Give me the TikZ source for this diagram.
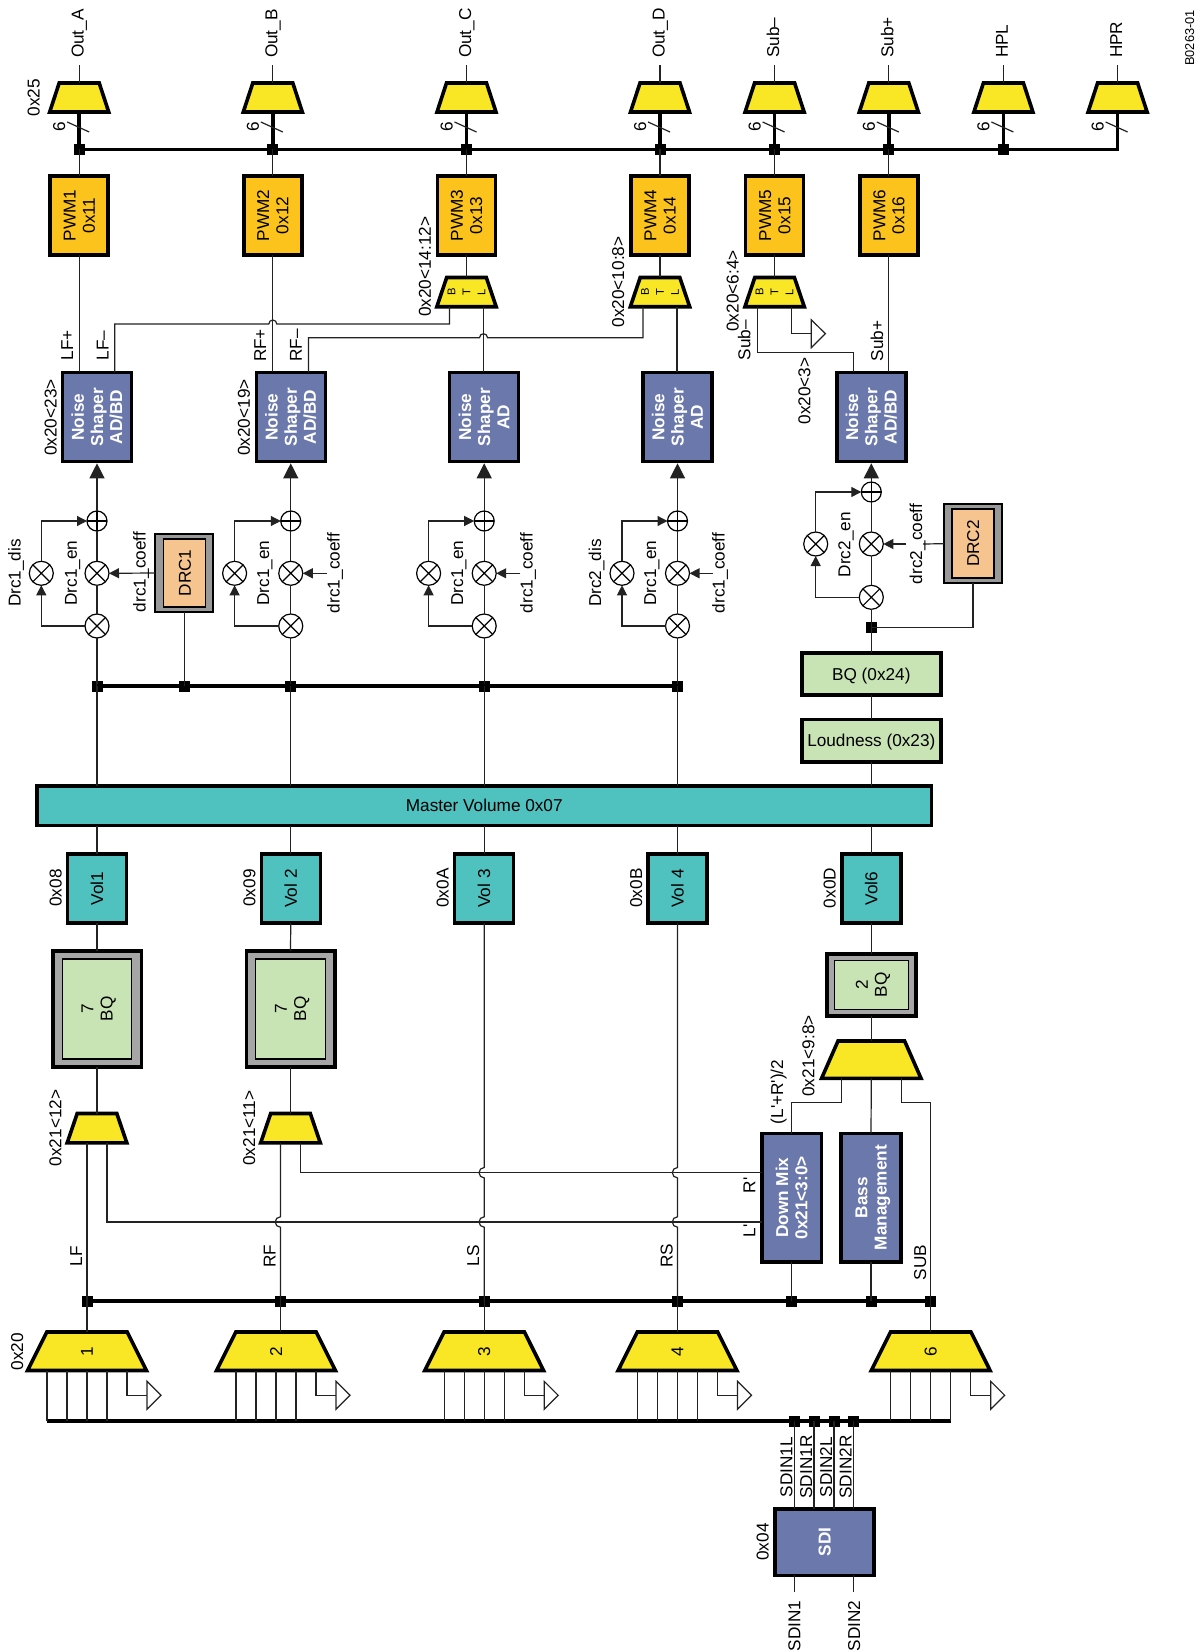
\documentclass[tikz,border=0pt]{standalone}
\usepackage{fontspec}
\usepackage{graphicx}
\setmainfont{Liberation Sans}[Ligatures=ResetAll]
\usetikzlibrary{arrows.meta}
\definecolor{cyel}{HTML}{F9E726}
\definecolor{corg}{HTML}{FBC31B}
\definecolor{cblu}{HTML}{6B78AC}
\definecolor{ctea}{HTML}{4FC1BF}
\definecolor{cgrn}{HTML}{C8E3B4}
\definecolor{cpch}{HTML}{F6C58F}
\definecolor{cgry}{HTML}{999999}
\definecolor{cgrb}{HTML}{A6A6A6}
\definecolor{cwire}{HTML}{222222}
\newcommand\rttext[1]{\kern2.2pt\rotatebox{90}{\begin{tabular}{@{}c@{}}#1\end{tabular}}}
\newcommand\muxn[7]{%
  \draw[muxs] ({#2-#5},#3) -- ({#2+#5},#3) -- ({#2+#6},#4) -- ({#2-#6},#4) -- cycle;
  \node[muxa, minimum width={2*(#6)*0.5pt}, minimum height={(#4-#3)*0.5pt}] (#1) at (#2,{(#3+#4)/2}) {#7};}
\newcommand\bufn[4]{%
  \draw[bufs] (#2,{#3-14}) -- (#4,#3) -- (#2,{#3+14}) -- cycle;
  \coordinate (#1) at (#2,#3);}
\newcommand\lb[4]{\node[lab] (#1) at (#2,#3) {#4};}
\tikzset{
  fnt/.style={font=\fontsize{8.6}{9.6}\selectfont},
  fntb/.style={font=\fontsize{8.6}{9.6}\selectfont\bfseries},
  boxs/.style 2 args={draw=black, line width=1.75pt, inner sep=0pt, outer sep=0pt, fnt,
     minimum width=#1*0.5pt, minimum height=#2*0.5pt},
  thinb/.style 2 args={draw=black, line width=0.6pt, inner sep=0pt, outer sep=0pt, fnt,
     minimum width=#1*0.5pt, minimum height=#2*0.5pt},
  flat/.style={text height=6pt, text depth=0pt},
  muxs/.style={draw=black, line width=1.8pt, fill=cyel, miter limit=10},
  muxa/.style={rectangle, inner sep=0pt, outer sep=0pt, fnt},
  bufs/.style={draw=cwire, line width=0.6pt, fill=white},
  wire/.style={draw=cwire, line width=0.6pt},
  busw/.style={draw=black, line width=1.75pt},
  jct/.style={fill=black, inner sep=0pt, outer sep=0pt, minimum size=5.5pt},
  lab/.style={rotate=90, inner sep=0pt, outer sep=0pt, text height=6pt, text depth=0pt, fnt},
  arrb/.style={wire, -{Triangle[length=7.5pt,width=7.5pt]}, shorten >=0.9pt},
  arrs/.style={wire, -{Triangle[length=5pt,width=5pt]}},
  xc/.style={circle, draw=black, line width=0.6pt, fill=white, inner sep=0pt, outer sep=0pt,
     minimum size=12pt, path picture={
       \draw[line width=0.6pt] (path picture bounding box.north west) -- (path picture bounding box.south east)
         (path picture bounding box.north east) -- (path picture bounding box.south west);}},
  pc/.style={circle, draw=black, line width=0.6pt, fill=white, inner sep=0pt, outer sep=0pt,
     minimum size=10pt, path picture={
       \draw[line width=0.6pt] (path picture bounding box.north) -- (path picture bounding box.south)
         (path picture bounding box.east) -- (path picture bounding box.west);}},
}
\begin{document}
\begin{tikzpicture}[x=0.5pt,y=-0.5pt]
\useasboundingbox (0,0) rectangle (1199,1652);

% ---- output section
\foreach \i/\x/\t in {1/79.2/Out\_A,2/272.8/Out\_B,3/466.5/Out\_C,4/660/Out\_D,5/774.6/Sub–,6/888.8/Sub+,7/1003.4/HPL,8/1117.6/HPR}{
  \muxn{mo\i}{\x}{83}{112}{20}{29.5}{}
  \node[lab, anchor=west] (lo\i) at ({\x-1.5},58) {\t};
  \node[lab] (ls\i) at ({\x-20},127) {6};
  \coordinate (co\i) at (\x,65);
  \draw[wire] (mo\i.north) -- (co\i);
  \coordinate (sa\i) at ({\x-12},122);
  \coordinate (sb\i) at ({\x+10},132);
}
\foreach \i/\x in {1/79.2,2/272.8,3/466.5,4/660,5/774.6,6/888.8,7/1003.4}{
  \node[jct] (jo\i) at (\x,149.3) {};
}
\coordinate (jo8) at (1117.6,149.3);
\draw[busw] (jo1.center) -- (jo8) -- (mo8.south);
\foreach \i in {1,...,7}{\draw[busw] (mo\i.south) -- (jo\i.center);}
\foreach \i in {1,...,8}{\draw[wire] (sa\i) -- (sb\i);}
\lb{l025}{33.7}{97.7}{0x25}
\node[lab] (lb0263) at (1188.2,38) {\fontsize{6.4}{7}\selectfont B0263-01};

% ---- PWM
\foreach \i/\x/\t in {1/79.2/{PWM1\\0x11},2/272.8/{PWM2\\0x12},3/466.5/{PWM3\\0x13},4/660/{PWM4\\0x14},5/774.6/{PWM5\\0x15},6/888.8/{PWM6\\0x16}}{
  \node[boxs={58}{79}, fill=corg] (pwm\i) at (\x,215.5) {\rttext{\t}};
  \draw[wire] (pwm\i.north) -- (jo\i.center);
}
% ---- BTL
\foreach \i/\x in {3/466.5,4/660,5/774.6}{
  \muxn{btl\i}{\x}{277.5}{306.8}{19.8}{29.7}{\fontsize{5.6}{6}\selectfont\makebox[7.5pt]{\rotatebox{90}{B}}\makebox[7.5pt]{\rotatebox{90}{T}}\makebox[7.5pt]{\rotatebox{90}{L}}}
  \draw[wire] (pwm\i.south) -- (btl\i.north);
}
% ---- noise shapers
\foreach \i/\x/\t in {1/97/{Noise\\Shaper\\AD/BD},2/290.75/{Noise\\Shaper\\AD/BD},3/484.2/{Noise\\Shaper\\AD},4/677.5/{Noise\\Shaper\\AD},5/871.3/{Noise\\Shaper\\AD/BD}}{
  \node[boxs={69}{89}, fill=cblu, text=white, fntb] (ns\i) at (\x,417) {\rttext{\t}};
}
\draw[wire] (pwm1.south) -- (pwm1.south |- ns1.north);
\draw[wire] (pwm2.south) -- (pwm2.south |- ns2.north);
\draw[wire] (pwm6.south) -- (pwm6.south |- ns5.north);
\coordinate (hA) at (272.8,324);
\coordinate (hB) at (483.5,337.7);
\draw[wire] ([xshift=8.9pt]ns1.north) |- ([xshift=-2pt]hA) arc[start angle=180,end angle=0,radius=2pt] -| ([xshift=-8.5pt]btl3.south);
\draw[wire] ([xshift=8.9pt]ns2.north) |- ([xshift=-2pt]hB) arc[start angle=180,end angle=0,radius=2pt] -| ([xshift=-8.5pt]btl4.south);
\draw[wire] ([xshift=8.5pt]btl3.south) -- ([xshift=8.5pt]btl3.south |- ns3.north);
\draw[wire] ([xshift=8.5pt]btl4.south) -- ([xshift=8.5pt]btl4.south |- ns4.north);
\coordinate (sj) at (853.3,352.3);
\draw[wire] ([xshift=-8.5pt]btl5.south) |- (sj) -- (sj |- ns5.north);
\bufn{bfs}{811.2}{333.7}{825.4}
\draw[wire] ([xshift=8.5pt]btl5.south) |- (bfs);
\lb{lp1}{67}{345.5}{LF+}
\lb{lp2}{102.6}{345.5}{LF–}
\lb{lp3}{260}{345.5}{RF+}
\lb{lp4}{295.8}{345.5}{RF–}
\lb{lp5}{877}{341}{Sub+}
\lb{lp6}{744.4}{340}{Sub–}
\lb{lp7}{732.5}{291}{0x20<6:4>}
\lb{lp8}{618}{282}{0x20<10:8>}
\lb{lp9}{424.8}{266.7}{0x20<14:12>}
\lb{lp10}{804.4}{391}{0x20<3>}
\lb{lp11}{50.5}{417.5}{0x20<23>}
\lb{lp12}{243.8}{417.5}{0x20<19>}

% ---- DRC1 block and mixers
\node[boxs={58}{78}, fill=cgry, line width=1pt] (drc1o) at (184,573) {};
\node[thinb={42}{68}, fill=cpch] (drc1i) at (184.8,573) {\rttext{DRC1}};
\node[jct] (dj0) at (184.8,686) {};
\foreach \k/\c/\l in {1/97/41.3,2/290.75/234.6,3/484.2/428.6,4/677.5/622}{
  \node[pc] (pl\k) at (\c,521) {};
  \node[xc] (xm\k) at (\c,573.3) {};
  \node[xc] (xb\k) at (\c,626) {};
  \node[xc] (xl\k) at (\l,573.3) {};
  \node[jct] (dj\k) at (\c,686) {};
  \draw[wire] (xb\k.north) -- (xm\k.south);
  \draw[wire] (xm\k.north) -- (pl\k.south);
  \draw[arrb] (pl\k.north) -- (ns\k.south);
  \draw[wire] (xb\k.south) -- (dj\k.center);
  \draw[arrs] (xb\k.west) -| (xl\k.south);
  \draw[arrs] (xl\k.north) |- (pl\k.west);
}
\draw[busw] (dj1.center) -- (dj4.center);
\draw[wire] (drc1o.south -| dj0) -- (dj0.center);
\draw[arrs] (drc1o.west) -- (xm1.east);
\coordinate (cc2) at (327,573.3);
\coordinate (cc3) at (520.4,573.3);
\coordinate (cc4) at (712.6,573.3);
\foreach \k in {2,3,4}{\draw[arrs] (cc\k) -- (xm\k.east);}
\lb{ld1}{14.5}{573}{Drc1\_dis}
\lb{ld2}{70.8}{573}{Drc1\_en}
\lb{ld3}{139.7}{572}{drc1\_coeff}
\lb{ld4}{263}{573}{Drc1\_en}
\lb{ld5}{333.5}{573}{drc1\_coeff}
\lb{ld6}{457}{573}{Drc1\_en}
\lb{ld7}{526.5}{573}{drc1\_coeff}
\lb{ld8}{595}{573}{Drc2\_dis}
\lb{ld9}{650}{573}{Drc1\_en}
\lb{ld10}{718.5}{573}{drc1\_coeff}

% ---- sub channel DRC2
\node[pc] (pls) at (871.3,492) {};
\node[xc] (xms) at (871.3,544) {};
\node[xc] (xbs) at (871.3,597.3) {};
\node[xc] (xls) at (815.7,544) {};
\node[jct] (djs) at (871.3,627.7) {};
\node[boxs={58}{79}, fill=cgry, line width=1pt] (drc2o) at (973,543.7) {};
\node[thinb={42}{69}, fill=cpch] (drc2i) at (973,543.5) {\rttext{DRC2}};
\draw[wire] (xbs.north) -- (xms.south);
\draw[wire] (xms.north) -- (pls.south);
\draw[arrb] (pls.north) -- (ns5.south);
\draw[wire] (xbs.south) -- (djs.center);
\draw[arrs] (xbs.west) -| (xls.south);
\draw[arrs] (xls.north) |- (pls.west);
\draw[wire] (drc2o.south) |- (djs.center);
\coordinate (ccs) at (906,544);
\coordinate (cct) at (923,544);
\draw[arrs] (ccs) -- (xms.east);
\draw[wire] (drc2o.west) -- (cct);
\lb{ld11}{844.3}{544.7}{Drc2\_en}
\lb{ld12}{916}{544}{drc2\_coeff}
\node[boxs={139}{42}, fill=cgrn, flat] (bq24) at (871.3,674) {BQ (0x24)};
\node[boxs={139}{42.5}, fill=cgrn, flat] (loud) at (871.3,740.5) {Loudness (0x23)};
\draw[wire] (djs.center) -- (bq24.north);
\draw[wire] (bq24.south) -- (loud.north);

% ---- Master volume and per-channel volumes
\node[boxs={894.6}{39.5}, fill=ctea, flat] (mv) at (484.25,805.8) {Master Volume 0x07};
\draw[wire] (loud.south) -- (loud.south |- mv.north);
\foreach \k/\c/\t in {1/97/{Vol1},2/290.75/{Vol 2},3/484.2/{Vol 3},4/677.5/{Vol 4},6/871.3/{Vol6}}{
  \node[boxs={59}{69}, fill=ctea] (vol\k) at (\c,888.5) {\rttext{\t}};
  \draw[wire] (vol\k.north) -- (vol\k.north |- mv.south);
}
\foreach \k in {1,2,3,4}{\draw[wire] (dj\k.center) -- (dj\k.center |- mv.north);}
\lb{lv1}{55.7}{888}{0x08}
\lb{lv2}{249.3}{888}{0x09}
\lb{lv3}{442.7}{888}{0x0A}
\lb{lv4}{636}{888}{0x0B}
\lb{lv6}{829.5}{888}{0x0D}

% ---- biquads and channel selects
\foreach \k/\c in {1/97,2/290.5}{
  \node[boxs={88.5}{116}, fill=cgrb] (bqo\k) at (\c,1009) {};
  \node[thinb={69.4}{100}, fill=cgrn] (bqi\k) at (\c,1009) {\rttext{7\\BQ}};
  \draw[wire] (vol\k.south) -- (bqo\k.north);
  \muxn{ms\k}{\c}{1113.5}{1142.8}{19.8}{29.8}{}
  \draw[wire] (bqo\k.south) -- (ms\k.north);
}
\node[boxs={89}{62}, fill=cgrb] (bqo6) at (871.3,985) {};
\node[thinb={74}{49}, fill=cgrn] (bqi6) at (871.3,985) {\rttext{2\\BQ}};
\draw[wire] (vol6.south) -- (bqo6.north);
\muxn{msub}{871.3}{1041}{1078.3}{33.3}{49.7}{}
\draw[wire] (bqo6.south) -- (msub.north);
\lb{lm1}{55.4}{1128}{0x21<12>}
\lb{lm2}{249}{1128}{0x21<11>}
\lb{lm3}{808.3}{1056}{0x21<9:8>}
\lb{lm4}{777}{1092}{(L\textquotesingle+R\textquotesingle)/2}

% ---- down mix and bass management
\node[boxs={59.8}{128.3}, fill=cblu, text=white, fntb] (dm) at (791.7,1197.7) {\rttext{Down Mix\\0x21<3:0>}};
\node[boxs={59.8}{128.3}, fill=cblu, text=white, fntb] (bm) at (871,1197.7) {\rttext{Bass\\Management}};
\draw[wire] (bm.north) -- (msub.south);
\coordinate (sa) at (791.7,1102.7);
\coordinate (sb) at (930.7,1102.7);
\draw[wire] ([xshift=-15pt]msub.south) |- (sa) -- (dm.north);

% ---- mid bus
\foreach \k/\c in {1/87,2/280.4,3/484.2,4/677.5,5/791.7,6/871,7/930.7}{
  \node[jct] (bj\k) at (\c,1301) {};
}
\draw[busw] (bj1.center) -- (bj7.center);
\draw[wire] ([xshift=15pt]msub.south) |- (sb) -- (bj7.center);
\draw[wire] (dm.south) -- (bj5.center);
\draw[wire] (bm.south) -- (bj6.center);
\coordinate (h2l) at (280.4,1222);
\coordinate (h3r) at (484.2,1172.7);
\coordinate (h3l) at (484.2,1222);
\coordinate (h4r) at (677.5,1172.7);
\coordinate (h4l) at (677.5,1222);
\draw[wire] ([xshift=-5pt]ms1.south) -- (bj1.center);
\draw[wire] ([xshift=-5pt]ms2.south) -- ([yshift=2.6pt]h2l) arc[start angle=90,end angle=270,radius=2.6pt] -- (bj2.center);
\draw[wire] (vol3.south) -- ([yshift=2.6pt]h3r) arc[start angle=90,end angle=270,radius=2.6pt] -- ([yshift=2.6pt]h3l) arc[start angle=90,end angle=270,radius=2.6pt] -- (bj3.center);
\draw[wire] (vol4.south) -- ([yshift=2.6pt]h4r) arc[start angle=90,end angle=270,radius=2.6pt] -- ([yshift=2.6pt]h4l) arc[start angle=90,end angle=270,radius=2.6pt] -- (bj4.center);
\draw[wire] ([xshift=5pt]ms1.south) |- ([yshift=-12.15pt]dm.west);
\draw[wire] ([xshift=5pt]ms2.south) |- ([yshift=12.5pt]dm.west);
\lb{lc1}{76}{1256}{LF}
\lb{lc2}{269.6}{1256}{RF}
\lb{lc3}{473}{1256}{LS}
\lb{lc4}{666.7}{1256}{RS}
\lb{lc5}{920}{1262.7}{SUB}
\lb{lc6}{749.3}{1185.5}{R\textquotesingle}
\lb{lc7}{749.3}{1231}{L\textquotesingle}

% ---- input muxes
\coordinate (bsL) at (47,1421);
\coordinate (bsR) at (950.7,1421);
\draw[busw] (bsL) -- (bsR);
\foreach \k/\c/\s/\t/\j in {1/87/0/1/1,2/276/2.2/2/2,3/484.2/0/3/3,4/677.5/0/4/4,6/930.7/0/6/7}{
  \muxn{im\k}{\c}{1332}{1370.5}{40.2}{59.4}{\rotatebox{90}{\t}}
  \draw[wire] ([xshift=\s pt]im\k.north) -- (bj\j.center);
  \foreach \o in {-20,-10,0,10}{
    \draw[wire] ([xshift=\o pt]im\k.south) -- ([xshift=\o pt]im\k.south |- bsL);
  }
  \bufn{bf\k}{\c+60}{1395.3}{\c+74}
  \draw[wire] ([xshift=20pt]im\k.south) |- (bf\k);
}
\lb{l020}{17}{1351.7}{0x20}

% ---- SDI
\node[boxs={99}{66.5}, fill=cblu, text=white, fntb] (sdi) at (824.5,1542) {\rttext{SDI}};
\foreach \k/\c/\t in {1/794.3/SDIN1L,2/814/SDIN1R,3/834/SDIN2L,4/853.7/SDIN2R}{
  \node[jct] (sj\k) at (\c,1421) {};
  \draw[wire] (sj\k.center) -- (sj\k.center |- sdi.north);
  \node[lab] (ln\k) at ({\c-8},1467) {\t};
}
\coordinate (sin1) at (794.3,1592);
\coordinate (sin2) at (853.7,1592);
\draw[wire] (sin1 |- sdi.south) -- (sin1);
\draw[wire] (sin2 |- sdi.south) -- (sin2);
\lb{lsd1}{794.3}{1626}{SDIN1}
\lb{lsd2}{854}{1626}{SDIN2}
\lb{lsd3}{762.7}{1542}{0x04}
\end{tikzpicture}
\end{document}
